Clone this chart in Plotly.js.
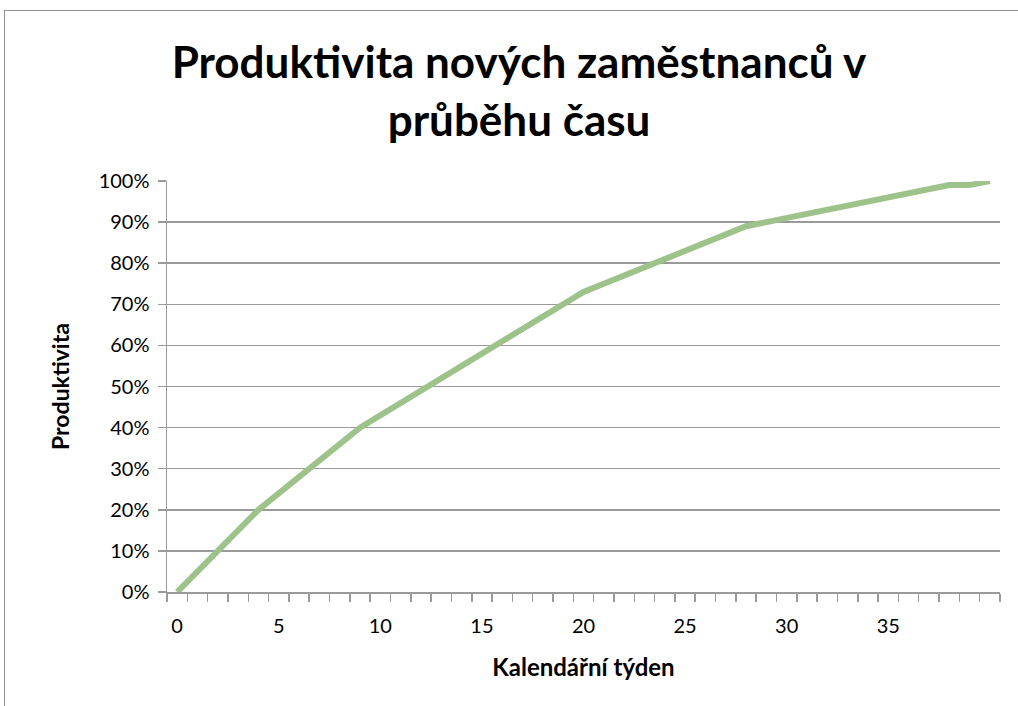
<!DOCTYPE html>
<html>
<head>
<meta charset="utf-8">
<script src="https://cdn.plot.ly/plotly-3.0.1.min.js"></script>
<style>
  html, body { margin: 0; padding: 0; background: #ffffff; overflow: hidden; }
  #wrap { position: relative; width: 1018px; height: 706px; }
  #chart { position: absolute; left: 0; top: 0; width: 1018px; height: 706px; }
  #frame { position: absolute; left: 4px; top: 10px; width: 1100px; height: 800px;
           border: 1.5px solid #8e8e8e; pointer-events: none; }
</style>
</head>
<body>
<div id="wrap">
  <div id="chart"></div>
  <div id="frame"></div>
</div>
<script>
// Data
const weeks = [0, 4, 9, 20, 28, 38, 39, 40];
const productivity = [0.00, 0.20, 0.40, 0.73, 0.89, 0.99, 0.99, 1.00];
const xTickValues = [0, 5, 10, 15, 20, 25, 30, 35];
const xTickLabels = ["0", "5", "10", "15", "20", "25", "30", "35"];

const titleText = "Produktivita nových zaměstnanců v<br>průběhu času";
const xTitle = "Kalendářní týden";
const yTitle = "Produktivita";

const FONT = "Lato, 'Open Sans', sans-serif";
const GRAY = "#9a9a9a";

const trace = {
  x: weeks,
  y: productivity,
  type: "scatter",
  mode: "lines",
  line: { color: "#9dc38a", width: 6 },
  hoverinfo: "x+y",
  showlegend: false
};

const layout = {
  width: 1018,
  height: 706,
  paper_bgcolor: "#ffffff",
  plot_bgcolor: "#ffffff",
  margin: { l: 167, r: 18, t: 181, b: 114, pad: 0 },
  font: { family: FONT, color: "#000000", size: 19 },
  title: {
    text: titleText,
    font: { family: FONT, size: 44, color: "#000000", weight: "bold" },
    x: 0.4226,
    xanchor: "center",
    y: 0.889,
    yanchor: "middle",
    xref: "paper",
    yref: "container"
  },
  xaxis: {
    range: [-0.5, 40.5],
    tickmode: "array",
    tickvals: xTickValues,
    ticktext: xTickLabels,
    ticks: "",
    showgrid: false,
    zeroline: false,
    showline: true,
    linecolor: GRAY,
    linewidth: 1.5,
    tickfont: { family: FONT, size: 20, color: "#000000" },
    ticklabelstandoff: 15,
    minor: {
      tickmode: "linear",
      tick0: -0.5,
      dtick: 1,
      ticks: "outside",
      ticklen: 8,
      tickcolor: GRAY,
      tickwidth: 1.5,
      showgrid: false
    },
    title: {
      text: xTitle,
      font: { family: FONT, size: 24, color: "#000000", weight: "bold" },
      standoff: 23
    },
    fixedrange: true
  },
  yaxis: {
    range: [0, 1],
    dtick: 0.1,
    tick0: 0,
    tickformat: ".0%",
    ticks: "outside",
    ticklen: 8,
    tickcolor: GRAY,
    tickwidth: 1.5,
    showgrid: true,
    gridcolor: GRAY,
    gridwidth: 1.5,
    zeroline: false,
    showline: true,
    linecolor: GRAY,
    linewidth: 1.5,
    tickfont: { family: FONT, size: 20, color: "#000000" },
    ticklabelstandoff: 4,
    title: {
      text: yTitle,
      font: { family: FONT, size: 23, color: "#000000", weight: "bold" },
      standoff: 22
    },
    fixedrange: true
  }
};

Plotly.newPlot("chart", [trace], layout, { displayModeBar: false, staticPlot: true });
</script>
</body>
</html>
